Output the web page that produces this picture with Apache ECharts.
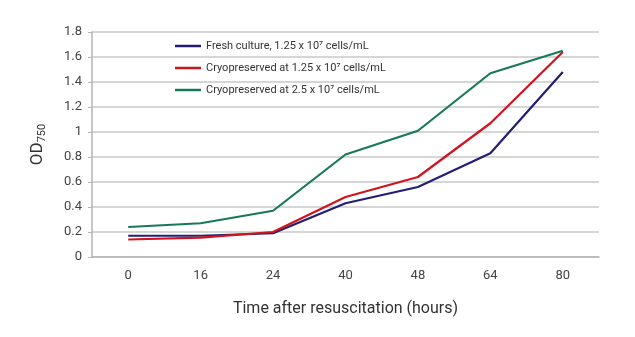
<!DOCTYPE html>
<html><head><meta charset="utf-8">
<script src="https://cdn.jsdelivr.net/npm/echarts@6/dist/echarts.min.js"></script>
<style>html,body{margin:0;padding:0;background:#fff}#c{width:635px;height:337px}</style>
</head><body><div id="c"></div>
<script>
const categories = ['0', '16', '24', '40', '48', '64', '80'];
const yTicks = [0, 0.2, 0.4, 0.6, 0.8, 1, 1.2, 1.4, 1.6, 1.8];
const seriesNames = [
  'Fresh culture, 1.25 x 10⁷ cells/mL',
  'Cryopreserved at 1.25 x 10⁷ cells/mL',
  'Cryopreserved at 2.5 x 10⁷ cells/mL'
];
const fresh = [0.17, 0.17, 0.19, 0.43, 0.56, 0.83, 1.48];
const cryo125 = [0.14, 0.155, 0.20, 0.48, 0.64, 1.07, 1.64];
const cryo25 = [0.24, 0.27, 0.37, 0.82, 1.01, 1.47, 1.65];
const colors = ['#231e74', '#d0141f', '#17785a'];
const FONT = 'Roboto';

const chart = echarts.init(document.getElementById('c'), null, {renderer: 'canvas'});
const mk = (name, data, color) => ({
  name, type: 'line', data, symbol: 'none', color,
  lineStyle: {width: 2.2, color}
});
chart.setOption({
  animation: false,
  textStyle: {fontFamily: FONT},
  grid: {left: 92, right: 36, top: 32, bottom: 80, containLabel: false},
  legend: {
    orient: 'vertical', left: 170, top: 34, itemGap: 8, itemWidth: 26, itemHeight: 14,
    icon: 'path://M0,6 L26,6 L26,8.5 L0,8.5 Z',
    textStyle: {fontFamily: FONT, fontSize: 11, color: '#333', height: 14, lineHeight: 14},
    data: seriesNames
  },
  xAxis: {
    type: 'category', data: categories, boundaryGap: true,
    name: 'Time after resuscitation (hours)', nameLocation: 'middle', nameGap: 44,
    nameTextStyle: {fontFamily: FONT, fontSize: 16, color: '#333'},
    axisLine: {lineStyle: {color: '#b5b5b5', width: 1.5}},
    axisTick: {alignWithLabel: true, length: 4, lineStyle: {color: '#b5b5b5'}},
    axisLabel: {fontSize: 13, color: '#444', margin: 12}
  },
  yAxis: {
    type: 'value', min: 0, max: 1.8, interval: 0.2,
    name: '{m|OD}{s|750}', nameLocation: 'middle', nameGap: 44, nameRotate: 90,
    nameTextStyle: {
      rich: {
        m: {fontFamily: FONT, fontSize: 17, color: '#333'},
        s: {fontFamily: FONT, fontSize: 11, color: '#333', verticalAlign: 'bottom', padding: [10, 0, 0, 0]}
      }
    },
    axisLine: {show: true, lineStyle: {color: '#b5b5b5', width: 1.5}},
    axisTick: {show: true, length: 4, lineStyle: {color: '#b5b5b5'}},
    splitLine: {lineStyle: {color: '#c8c8c8', width: 1.5}},
    axisLabel: {fontSize: 13, color: '#444', margin: 10,
      formatter: v => { const t = yTicks.find(x => Math.abs(x - v) < 1e-6); return t === undefined ? '' : String(t); }}
  },
  series: [
    mk(seriesNames[0], fresh, colors[0]),
    mk(seriesNames[1], cryo125, colors[1]),
    mk(seriesNames[2], cryo25, colors[2])
  ]
});
</script></body></html>
